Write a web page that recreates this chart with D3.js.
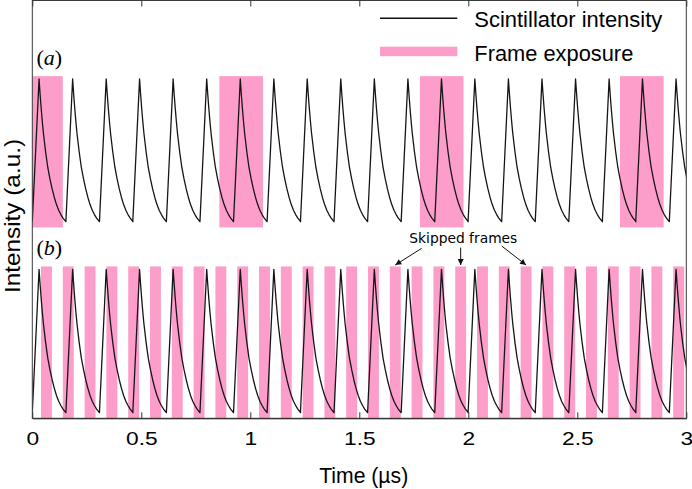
<!DOCTYPE html>
<html><head><meta charset="utf-8">
<script src="https://cdn.jsdelivr.net/npm/d3@7"></script>
<style>body{margin:0;background:#fff}</style>
</head><body>
<svg id="c" width="692" height="489"></svg>
<script>
// ---- data ----
const xTicks = [0, 0.5, 1, 1.5, 2, 2.5, 3];
const xTickLabels = ["0", "0.5", "1", "1.5", "2", "2.5", "3"];
// scintillator pulse start times (µs), one every ~153.8 ns
const pulseStarts = [0, 0.154, 0.308, 0.461, 0.615, 0.769, 0.923, 1.077, 1.230, 1.384,
                     1.538, 1.692, 1.846, 1.999, 2.153, 2.307, 2.461, 2.615, 2.768, 2.922];
// one pulse: time after pulse start (µs) and intensity (a.u.)
const pulseOffsets = [0, 0.031, 0.036, 0.041, 0.046, 0.051, 0.061, 0.071, 0.081, 0.091, 0.101, 0.111, 0.121, 0.131, 0.141, 0.1538];
const pulseValues  = [0, 1.00, 0.89, 0.79, 0.70, 0.62, 0.49, 0.38, 0.30, 0.23, 0.17, 0.12, 0.08, 0.05, 0.025, 0];
// panel (a): exposure starts (µs) and width
const framesA = [-0.06, 0.858, 1.778, 2.696];
const frameWidthA = 0.2;
// panel (b): exposure starts (µs) and width
const framesB = [0.04, 0.14, 0.24, 0.34, 0.44, 0.54, 0.64, 0.74, 0.84, 0.94,
                 1.04, 1.14, 1.24, 1.34, 1.44, 1.54, 1.64, 1.74, 1.84, 1.94,
                 2.04, 2.14, 2.24, 2.34, 2.44, 2.54, 2.64, 2.74, 2.84, 2.94];
const frameWidthB = 0.05;
const frameExtent = [-0.04, 1.02];   // vertical extent of exposure bands (a.u.)
const skippedFrames = [1.64, 1.94, 2.24];
const legendLabels = ["Scintillator intensity", "Frame exposure"];

// ---- layout ----
const W = 692, H = 489;
const L = 32.3, R = 686.3, T = 0.5, B = 418.3;
const pink = "#fd9dc9";
const svg = d3.select("#c");

const x = d3.scaleLinear().domain([0, 3]).range([L, R]);
const yA = d3.scaleLinear().domain([0, 1]).range([221.7, 79]);
const yB = d3.scaleLinear().domain([0, 1]).range([412.7, 269.3]);

svg.append("defs").append("clipPath").attr("id", "plotclip")
  .append("rect").attr("x", L).attr("y", T).attr("width", R - L).attr("height", B - T);

const plot = svg.append("g").attr("clip-path", "url(#plotclip)");

// exposure bands
function bands(frames, w, y) {
  plot.append("g").selectAll("rect").data(frames).join("rect")
    .attr("x", d => x(d)).attr("width", d => x(d + w) - x(d))
    .attr("y", y(frameExtent[1])).attr("height", y(frameExtent[0]) - y(frameExtent[1]))
    .attr("fill", pink);
}
bands(framesA, frameWidthA, yA);
bands(framesB, frameWidthB, yB);

// scintillator curve
const pts = [];
pulseStarts.forEach(s => pulseOffsets.forEach((o, i) => pts.push([s + o, pulseValues[i]])));
[yA, yB].forEach(y => {
  plot.append("path").datum(pts)
    .attr("d", d3.line().x(d => x(d[0])).y(d => y(d[1])))
    .attr("fill", "none").attr("stroke", "#151515").attr("stroke-width", 1.3)
    .attr("stroke-linejoin", "round");
});

// frame border
svg.append("rect").attr("x", L).attr("y", T).attr("width", R - L).attr("height", B - T)
  .attr("fill", "none").attr("stroke", "#3a3a3a").attr("stroke-width", 1);

// bottom axis
const ax = svg.append("g").attr("transform", `translate(0,${B})`)
  .call(d3.axisBottom(x).tickValues(xTicks).tickFormat((d, i) => xTickLabels[i])
    .tickSizeInner(-6).tickSizeOuter(0));
ax.select(".domain").attr("stroke", "#222");
ax.selectAll(".tick line").attr("stroke", "#333");
ax.selectAll(".tick text").attr("y", 26.3).attr("dy", 0)
  .attr("font-family", "Liberation Sans, Arial, sans-serif").attr("font-size", 17.5)
  .attr("fill", "#000").attr("transform", "scale(1.3,1)");
// top ticks
const axT = svg.append("g").attr("transform", `translate(0,${T})`)
  .call(d3.axisTop(x).tickValues(xTicks).tickFormat("").tickSizeInner(-6).tickSizeOuter(0));
axT.select(".domain").remove();
axT.selectAll(".tick line").attr("stroke", "#333");

// axis titles
svg.append("text").attr("x", 363.7).attr("y", 483.3).attr("text-anchor", "middle")
  .attr("font-family", "Liberation Sans, Arial, sans-serif").attr("font-size", 21.5)
  .attr("textLength", 89).attr("lengthAdjust", "spacingAndGlyphs").text("Time (µs)");
svg.append("text").attr("transform", "translate(19.5,216) rotate(-90)").attr("text-anchor", "middle")
  .attr("font-family", "Liberation Sans, Arial, sans-serif").attr("font-size", 22)
  .attr("textLength", 154).attr("lengthAdjust", "spacingAndGlyphs").text("Intensity (a.u.)");

// panel labels
[["a", 64.8], ["b", 254.5]].forEach(([l, yb]) => {
  const t = svg.append("text").attr("x", 36.5).attr("y", yb)
    .attr("font-family", "Liberation Serif, Times New Roman, serif").attr("font-size", 22);
  t.append("tspan").text("(");
  t.append("tspan").attr("font-style", "italic").text(l);
  t.append("tspan").text(")");
});

// legend
const lg = svg.append("g");
lg.append("line").attr("x1", 380).attr("x2", 457.3).attr("y1", 18.3).attr("y2", 18.3)
  .attr("stroke", "#111").attr("stroke-width", 1.5);
lg.append("rect").attr("x", 380).attr("y", 46.7).attr("width", 77.3).attr("height", 9.5).attr("fill", pink);
lg.append("text").attr("x", 474.3).attr("y", 26.6)
  .attr("font-family", "Liberation Sans, Arial, sans-serif").attr("font-size", 22)
  .attr("textLength", 188).attr("lengthAdjust", "spacingAndGlyphs").text(legendLabels[0]);
lg.append("text").attr("x", 474.3).attr("y", 60.5)
  .attr("font-family", "Liberation Sans, Arial, sans-serif").attr("font-size", 22)
  .attr("textLength", 159).attr("lengthAdjust", "spacingAndGlyphs").text(legendLabels[1]);

// skipped-frame annotation
svg.select("defs").append("marker").attr("id", "arr").attr("viewBox", "0 0 10 10")
  .attr("refX", 10).attr("refY", 5).attr("markerWidth", 8).attr("markerHeight", 6)
  .attr("markerUnits", "userSpaceOnUse").attr("orient", "auto")
  .append("path").attr("d", "M0,0 L10,5 L0,10 z").attr("fill", "#111");
svg.append("text").attr("x", 409.3).attr("y", 242.6)
  .attr("font-family", "DejaVu Sans, Verdana, sans-serif").attr("font-size", 13.5)
  .attr("textLength", 108).attr("lengthAdjust", "spacingAndGlyphs").text("Skipped frames");
const tails = [[421.7, 248.3], [null, 247.7], [501.7, 246]];
skippedFrames.forEach((s, i) => {
  const tipX = x(s + frameWidthB / 2);
  svg.append("line")
    .attr("x1", tails[i][0] === null ? tipX : tails[i][0]).attr("y1", tails[i][1])
    .attr("x2", tipX).attr("y2", 265)
    .attr("stroke", "#111").attr("stroke-width", 1).attr("marker-end", "url(#arr)");
});
</script>
</body></html>
